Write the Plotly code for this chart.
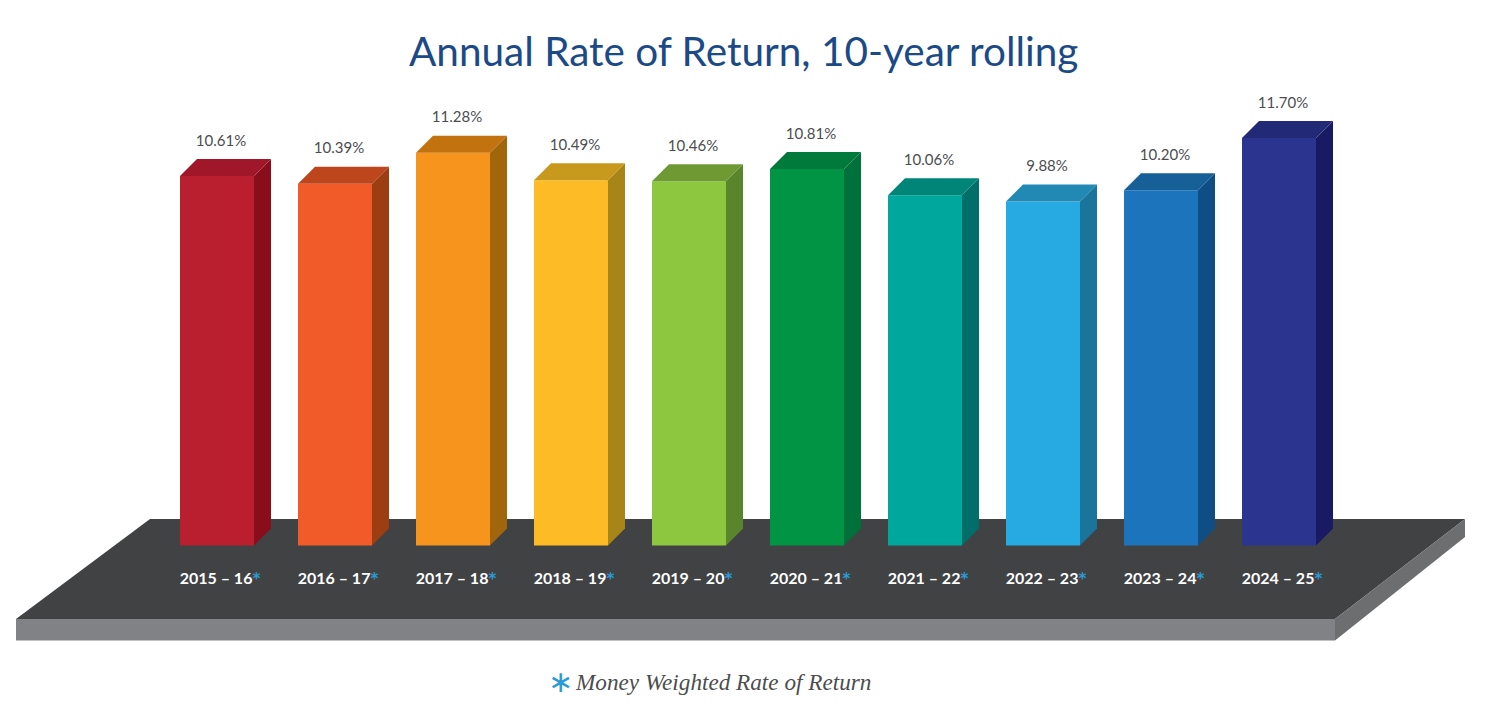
import plotly.graph_objects as go

# ---- data ----
periods = ["2015 – 16", "2016 – 17", "2017 – 18", "2018 – 19", "2019 – 20",
           "2020 – 21", "2021 – 22", "2022 – 23", "2023 – 24", "2024 – 25"]
returns = [10.61, 10.39, 11.28, 10.49, 10.46, 10.81, 10.06, 9.88, 10.20, 11.70]
value_labels = ["10.61%", "10.39%", "11.28%", "10.49%", "10.46%",
                "10.81%", "10.06%", "9.88%", "10.20%", "11.70%"]
front_colors = ["#B91F2E", "#F15A29", "#F7941D", "#FDBB25", "#8DC63F",
                "#009444", "#00A79D", "#27AAE1", "#1C75BC", "#2B3590"]
top_colors = ["#A0172A", "#BD461D", "#C2730F", "#C79A1E", "#6F9A33",
              "#007A3B", "#008578", "#2289B5", "#166097", "#222A78"]
side_colors = ["#8A0D1C", "#9C3D12", "#A1650C", "#A88518", "#5A852C",
               "#00713A", "#006E69", "#1A749C", "#0F4E84", "#181B64"]

# ---- canvas geometry ----
W, H = 1485, 725
X0_PX, STEP_PX = 217.0, 118.0     # first bar centre, spacing
Y0_PX, UNIT_PX = 545.5, 34.82     # baseline, pixels per percentage point
BAR_W = 74 / STEP_PX
DX, DY = 17 / STEP_PX, 17 / UNIT_PX


def xd(px):
    return (px - X0_PX) / STEP_PX


def yd(py):
    return (Y0_PX - py) / UNIT_PX


def path(points):
    return "M " + " L ".join(f"{xd(a):.4f},{yd(b):.4f}" for a, b in points) + " Z"


idx = list(range(len(periods)))
fig = go.Figure()

# side and top faces, derived from the values
for i, v, tc, sc in zip(idx, returns, top_colors, side_colors):
    l, r = i - BAR_W / 2, i + BAR_W / 2
    fig.add_trace(go.Scatter(x=[r, r + DX, r + DX, r, r], y=[0, DY, v + DY, v, 0],
                             mode="lines", fill="toself", fillcolor=sc,
                             line=dict(width=0), hoverinfo="skip"))
    fig.add_trace(go.Scatter(x=[l, l + DX, r + DX, r, l], y=[v, v + DY, v + DY, v, v],
                             mode="lines", fill="toself", fillcolor=tc,
                             line=dict(width=0), hoverinfo="skip"))

# front faces
fig.add_trace(go.Bar(x=idx, y=returns, width=BAR_W, marker=dict(color=front_colors, line=dict(width=0)),
                     hoverinfo="skip"))

# value labels above the bars
fig.add_trace(go.Scatter(x=[i + 4 / STEP_PX for i in idx], y=[v + 34 / UNIT_PX for v in returns],
                         mode="text", text=value_labels, textposition="middle center",
                         textfont=dict(family="Lato", size=15, color="#4D4D4F"), hoverinfo="skip"))

# period labels on the platform
period_text = [f'<b>{p}</b><span style="color:#2A9BD5;font-family:DejaVu Sans;font-size:15px"><b>*</b></span>'
               for p in periods]
fig.add_trace(go.Scatter(x=[i + 3 / STEP_PX for i in idx], y=[yd(579.5)] * len(idx),
                         mode="text", text=period_text, textposition="middle center",
                         textfont=dict(family="Lato", size=16, color="#FFFFFF"), hoverinfo="skip"))

shapes = [
    dict(type="path", path=path([(150, 519), (1465, 519), (1335, 619), (16, 619)]),
         fillcolor="#414244", line=dict(width=0), layer="below"),
    dict(type="path", path=path([(16, 619), (1335, 619), (1335, 640.5), (16, 640.5)]),
         fillcolor="#808285", line=dict(width=0), layer="below"),
    dict(type="path", path=path([(1335, 619), (1465, 519), (1465, 537), (1335, 640.5)]),
         fillcolor="#6D6E70", line=dict(width=0), layer="below"),
]

annotations = [
    dict(text="Annual Rate of Return, 10-year rolling", xref="paper", yref="paper",
         x=743.5 / W, y=1 - 50 / H, showarrow=False, xanchor="center", yanchor="middle",
         font=dict(family="Lato", size=40.5, color="#1B4A87")),
    dict(text="∗", xref="paper", yref="paper", x=560 / W, y=1 - 681 / H, showarrow=False,
         xanchor="center", yanchor="middle",
         font=dict(family="DejaVu Sans", size=30, color="#2A9BD5")),
    dict(text="Money Weighted Rate of Return", xref="paper", yref="paper",
         x=573 / W, y=1 - 682 / H, showarrow=False, xanchor="left", yanchor="middle",
         font=dict(family="Liberation Serif", size=23.2, color="#4D4D4F", style="italic")),
]

fig.update_layout(
    width=W, height=H, margin=dict(l=0, r=0, t=0, b=0),
    paper_bgcolor="white", plot_bgcolor="white", showlegend=False,
    xaxis=dict(range=[xd(0), xd(W)], visible=False, fixedrange=True),
    yaxis=dict(range=[yd(H), yd(0)], visible=False, fixedrange=True),
    shapes=shapes, annotations=annotations,
)

fig.write_html("out.html", config=dict(displayModeBar=False),
               post_script="document.body.style.margin='0';document.body.style.overflow='hidden';")
